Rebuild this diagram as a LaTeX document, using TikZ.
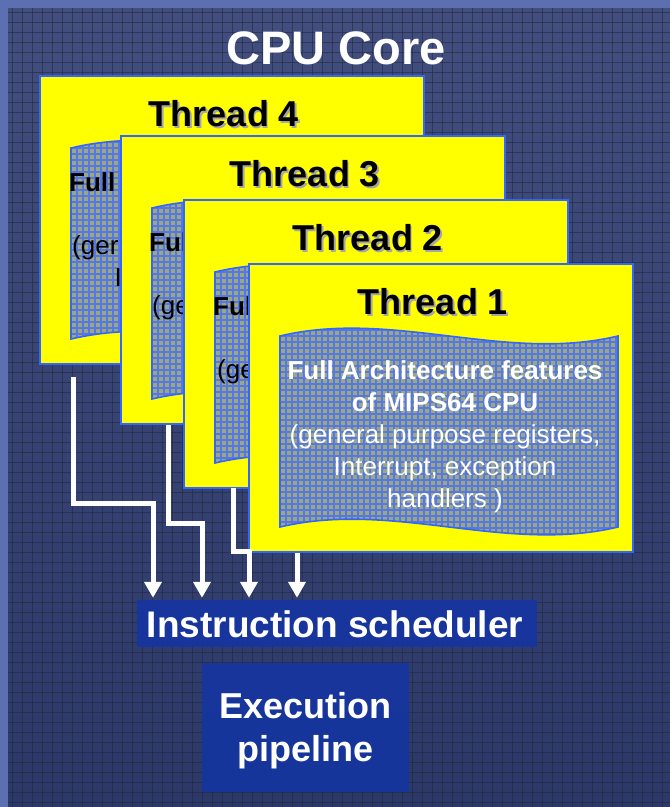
\documentclass[tikz,border=0pt]{standalone}
\usepackage{fontspec}
\setmainfont{Liberation Sans}
\usetikzlibrary{arrows.meta}
\definecolor{bgouter}{HTML}{5B6FB1}
\definecolor{bgtop}{HTML}{414E7E}
\definecolor{bgbot}{HTML}{2C3968}
\definecolor{bggridc}{HTML}{1F2436}
\definecolor{panelyellow}{HTML}{FFFF00}
\definecolor{panelblue}{HTML}{3366FF}
\definecolor{wavefillc}{HTML}{9AA87C}
\definecolor{wavegridc}{HTML}{5577E8}
\definecolor{boxfill}{HTML}{1535A0}
\tikzset{
  bggrid/.style={draw=bggridc, line width=1pt, opacity=0.5},
  threadbox/.style={draw=panelblue, fill=panelyellow, line width=2pt,
    minimum width=384pt, minimum height=288pt, inner sep=0pt, outer sep=0pt},
  threadtitle/.style={font=\fontsize{36}{40}\selectfont\bfseries, inner sep=0pt},
  wavefill/.style={fill=wavefillc},
  wavegrid/.style={draw=wavegridc, line width=1.1pt},
  waveborder/.style={draw=panelblue, line width=1.6pt},
  wavetext/.style={align=center, inner sep=0pt, anchor=north,
    font=\fontsize{26}{32}\selectfont},
  hidtext/.style={inner sep=0pt, anchor=base west, text=black,
    font=\fontsize{26}{32}\selectfont},
  flow/.style={draw=white, line width=5pt, line join=miter,
    -{Triangle[width=17pt,length=16pt]}, shorten >=2pt},
  bluebox/.style={fill=boxfill, fill opacity=0.92, inner sep=0pt},
  boxtext/.style={text=white, font=\fontsize{36}{43}\selectfont\bfseries,
    inner sep=0pt, align=center},
}
\def\wavepath{(31,72) .. controls (144,45) and (256,99) .. (369,72) -- (369,263) .. controls (256,290) and (144,236) .. (31,263) -- cycle}
% #1 name, #2 x, #3 y, #4 number
\newcommand\threadpanel[4]{%
  \node[threadbox, anchor=north west] (#1) at (#2,#3) {};
  \begin{scope}[shift={(#2,#3)}]
    \node[threadtitle, text=gray!70] (#1shadow) at (185.5,39.5) {Thread #4};
    \node[threadtitle] (#1title) at (184,38) {Thread #4};
    \begin{scope}
      \clip \wavepath;
      \fill[wavefill] (0,40) rectangle (400,300);
      \foreach \g in {31,37,...,370} \draw[wavegrid] (\g,40) -- (\g,300);
      \foreach \g in {42,48,...,300} \draw[wavegrid] (30,\g) -- (370,\g);
    \end{scope}
    \draw[waveborder] \wavepath;
  \end{scope}}
\begin{document}
\begin{tikzpicture}[x=1pt,y=-1pt]
\useasboundingbox (0,0) rectangle (670,807);
\fill[bgouter] (0,0) rectangle (670,807);
\shade[top color=bgtop, bottom color=bgbot] (8,8) rectangle (670,807);
\foreach \i in {12,22,...,668} \draw[bggrid] (\i,8) -- (\i,807);
\foreach \j in {12,22,...,806} \draw[bggrid] (8,\j) -- (670,\j);

\node[text=white, font=\fontsize{47}{50}\selectfont\bfseries, inner sep=0pt] (core) at (336,48.5) {CPU Core};

\threadpanel{t4}{40}{76}{4}
\node[hidtext, font=\fontsize{26}{32}\selectfont\bfseries] (t4a) at (69,191.3) {Full};
\node[hidtext] (t4b) at (72,254.3) {(ger};
\node[hidtext] (t4c) at (114.5,286.3) {I};

\threadpanel{t3}{121}{136}{3}
\node[hidtext, font=\fontsize{26}{32}\selectfont\bfseries] (t3a) at (149,251.3) {Ful};
\node[hidtext] (t3b) at (152,314.3) {(ge};

\threadpanel{t2}{184}{200}{2}
\node[hidtext, font=\fontsize{26}{32}\selectfont\bfseries] (t2a) at (213,315.3) {Ful};
\node[hidtext] (t2b) at (217,378.3) {(ge};

\threadpanel{t1}{249}{264}{1}
\node[wavetext, text=white] (t1text) at (445,360.5)
  {\bfseries Full Architecture features\\ \bfseries of MIPS64 CPU\\
   (general purpose registers,\\ Interrupt, exception\\ handlers )};

\node[bluebox, minimum width=400pt, minimum height=47pt] (sched) at (337,623.5) {};
\node[boxtext, font=\fontsize{37}{40}\selectfont\bfseries] (schedtext) at (335,624) {Instruction scheduler};
\node[bluebox, minimum width=207pt, minimum height=129pt] (exec) at (305.5,727.5) {};
\node[boxtext] (exectext) at (305.5,730.5) {Execution\\pipeline};

\coordinate (s4) at (73,377);
\coordinate (s3) at (168,425);
\coordinate (s2) at (233,488);
\coordinate (s1) at (297,553);
\draw[flow] (s4) -- ++(0,126) -| ([xshift=-184pt]sched.north);
\draw[flow] (s3) -- ++(0,98) -| ([xshift=-135pt]sched.north);
\draw[flow] (s2) -- ++(0,63) -| ([xshift=-88pt]sched.north);
\draw[flow] (s1) -- ([xshift=-40pt]sched.north);
\end{tikzpicture}
\end{document}
